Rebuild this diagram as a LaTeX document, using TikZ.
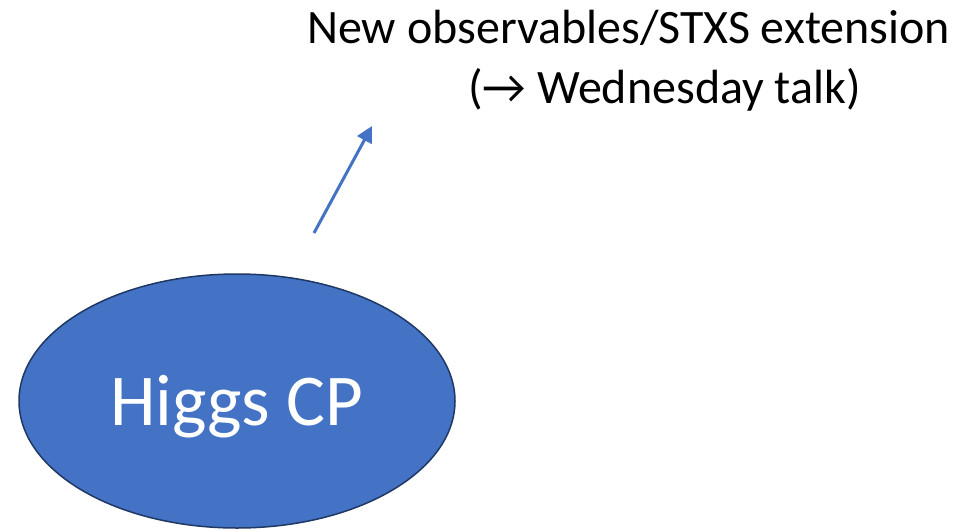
\documentclass[tikz,border=0pt]{standalone}
\usepackage{fontspec}
\setmainfont{Carlito}
\usetikzlibrary{shapes.geometric,arrows.meta}
\definecolor{accentblue}{HTML}{4472C4}
\definecolor{rimblue}{HTML}{1F3864}
\tikzset{
  topic/.style={ellipse, draw=rimblue, line width=1.5pt, fill=accentblue,
    minimum width=436pt, minimum height=254pt, inner sep=0pt},
  topiclabel/.style={anchor=base, inner sep=0pt, text=white,
    font=\fontsize{73}{88}\selectfont},
  caption/.style={anchor=base west, inner sep=0pt, text=black,
    font=\fontsize{48}{58}\selectfont},
  link/.style={draw=accentblue, line width=3pt, -{Triangle[length=16pt,width=16pt]}}
}
\begin{document}
\begin{tikzpicture}[x=1pt,y=-1pt]
  \useasboundingbox (0,0) rectangle (956,531);
  \node[topic] (cp) at (237,401) {};
  \node[topiclabel] (cplabel) at (237,425) {Higgs CP};
  \node[caption] (l1) at (307,43) {New observables/STXS extension};
  \node[caption] (l2) at (468,103) {(→ Wednesday talk)};
  \coordinate (tail) at (314,233);
  \coordinate (head) at (372,126);
  \draw[link] (tail) -- (head);
\end{tikzpicture}
\end{document}
